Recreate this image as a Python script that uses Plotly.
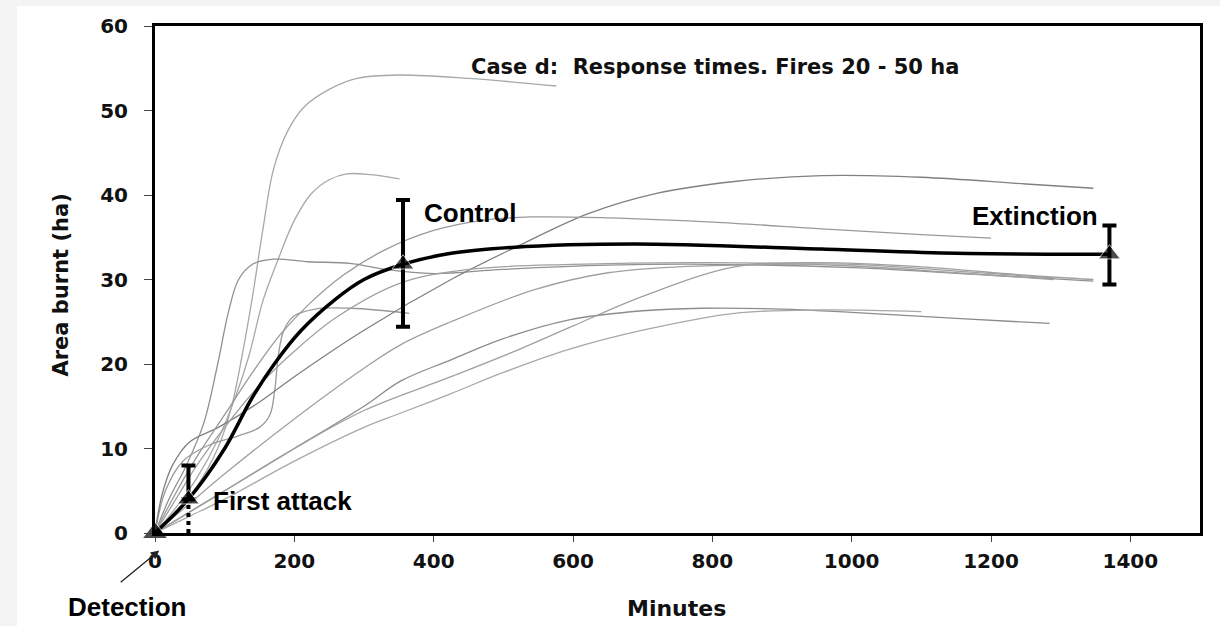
import plotly.graph_objects as go

# ---------------- data ----------------
x_ticks = [0, 200, 400, 600, 800, 1000, 1200, 1400]
y_ticks = [0, 10, 20, 30, 40, 50, 60]

# individual fires (grey curves)
fireA_x = [0, 30, 60, 90, 110, 125, 140, 155, 170, 190, 215, 250, 290, 350, 450, 576]
fireA_y = [0, 2.5, 5.5, 10, 15, 21, 28, 36, 43, 47.5, 50.5, 52.5, 53.8, 54.2, 53.8, 52.9]
fireB_x = [0, 30, 60, 90, 115, 135, 155, 175, 200, 225, 250, 275, 310, 351]
fireB_y = [0, 3, 6.5, 11, 16, 21, 27.5, 32, 37, 40.2, 41.8, 42.5, 42.4, 41.9]
fireC_x = [0, 20, 45, 70, 90, 105, 120, 140, 170, 220, 280, 330, 400, 500, 650, 800, 1000, 1200, 1347]
fireC_y = [0, 4, 8, 13, 20, 26, 30, 31.8, 32.4, 32.1, 31.9, 31.2, 30.7, 31.2, 31.7, 31.8, 31.4, 30.5, 29.8]
fireD_x = [0, 15, 40, 80, 120, 150, 165, 172, 177, 185, 200, 230, 280, 330, 365]
fireD_y = [0, 5, 8.5, 10.5, 11.5, 12.5, 14, 17, 21, 24, 25.7, 26.5, 26.6, 26.3, 26]
fireE_x = [0, 10, 25, 50, 91, 150, 200, 300, 425, 522, 622, 720, 832, 957, 1100, 1250, 1347]
fireE_y = [0, 4.5, 8, 10.8, 12.5, 15.5, 18.5, 24, 30, 34, 37.8, 40.2, 41.6, 42.3, 42.1, 41.3, 40.8]
fireF_x = [0, 25, 60, 100, 140, 180, 220, 270, 330, 400, 470, 540, 650, 800, 957, 1100, 1200]
fireF_y = [0, 4, 9, 14, 19, 23.5, 27, 30.5, 33.5, 35.8, 37, 37.4, 37.3, 36.8, 36, 35.3, 34.9]
fireG_x = [0, 50, 100, 200, 300, 353, 425, 545, 650, 750, 832, 1000, 1150, 1290]
fireG_y = [0, 3.5, 7, 13.5, 19.5, 22.3, 25, 28.8, 30.8, 31.5, 31.7, 31.8, 31, 30.2]
fireH_x = [0, 50, 100, 200, 300, 353, 425, 500, 593, 700, 784, 900, 1000, 1150, 1284]
fireH_y = [0, 2.5, 5, 10, 15, 18, 20.5, 23, 25.2, 26.3, 26.6, 26.5, 26.1, 25.4, 24.8]
fireI_x = [0, 50, 100, 200, 300, 425, 522, 600, 700, 832, 950, 1100, 1250, 1347]
fireI_y = [0, 2.5, 5, 10, 14.5, 18.5, 21.7, 24.5, 28, 31.5, 32, 31.5, 30.5, 30]
fireJ_x = [0, 50, 100, 200, 300, 353, 425, 500, 593, 700, 832, 957, 1100]
fireJ_y = [0, 2, 4, 8.5, 12.5, 14.2, 16.5, 19, 21.7, 24, 26, 26.4, 26.2]
fireK_x = [0, 30, 60, 100, 150, 200, 260, 353, 450, 600, 800, 1000, 1150, 1290]
fireK_y = [0, 4, 8, 12.5, 17.5, 21.5, 25.5, 29.6, 31.2, 31.8, 32, 31.6, 30.8, 30]

fires = [
    (fireA_x, fireA_y), (fireB_x, fireB_y), (fireC_x, fireC_y), (fireD_x, fireD_y),
    (fireE_x, fireE_y), (fireF_x, fireF_y), (fireG_x, fireG_y), (fireH_x, fireH_y),
    (fireI_x, fireI_y), (fireJ_x, fireJ_y), (fireK_x, fireK_y),
]
fire_colors = ["#a8a8a8", "#a8a8a8", "#909090", "#999999", "#808080", "#999999",
               "#a0a0a0", "#8c8c8c", "#a0a0a0", "#a8a8a8", "#a0a0a0"]

# mean curve
mean_x = [0, 48, 100, 138, 172, 210, 258, 300, 356, 425, 512, 688, 957, 1150, 1370]
mean_y = [0, 4, 10, 15.8, 20.1, 24, 27.6, 30, 31.8, 33.1, 33.8, 34.2, 33.6, 33.1, 33.0]

# milestones
stage_names = ["Detection", "First attack", "Control", "Extinction"]
stage_x = [0, 48, 356, 1370]
stage_y = [0, 4, 31.8, 33]
stage_err_plus = [0, 4, 7.6, 3.4]
stage_err_minus = [0, 0, 7.4, 3.6]

fig = go.Figure()

for (fx, fy), col in zip(fires, fire_colors):
    fig.add_trace(go.Scatter(x=fx, y=fy, mode="lines",
                             line=dict(color=col, width=1.3, shape="spline", smoothing=1.0),
                             hoverinfo="skip", showlegend=False))

fig.add_trace(go.Scatter(x=mean_x, y=mean_y, mode="lines",
                         line=dict(color="black", width=3.5, shape="spline", smoothing=0.9),
                         showlegend=False, cliponaxis=False))

# dotted lower part of the first-attack bar
fig.add_trace(go.Scatter(x=[stage_x[1], stage_x[1]], y=[0, stage_y[1]], mode="lines",
                         line=dict(color="black", width=4, dash="dot"), showlegend=False))

fig.add_trace(go.Scatter(
    x=stage_x, y=stage_y, mode="markers",
    marker=dict(symbol="triangle-up", size=[22, 19, 19, 19], color="black"),
    error_y=dict(type="data", symmetric=False, array=stage_err_plus,
                 arrayminus=stage_err_minus, color="black", thickness=4, width=7),
    cliponaxis=False, showlegend=False))

label_font = dict(family="Liberation Sans", size=26, color="black", weight="bold")
bold_font = dict(family="DejaVu Sans", color="#111", weight="bold")
annotations = [
    dict(x=stage_x[1] + 32, y=stage_y[1] - 0.2, text="First attack", xanchor="left", yanchor="middle",
         showarrow=False, font=label_font),
    dict(x=stage_x[2] + 27, y=37.9, text="Control", xanchor="left", yanchor="middle",
         showarrow=False, font=label_font),
    dict(x=stage_x[3] - 14, y=37.5, text="Extinction", xanchor="right", yanchor="middle",
         showarrow=False, font=label_font),
    dict(x=-0.0268, y=-0.146, xref="paper", yref="paper", text="Detection", xanchor="center",
         yanchor="middle", showarrow=False, font=label_font),
    dict(x=0.004, y=-0.0345, xref="paper", yref="paper", text="", showarrow=True,
         ax=-40, ay=33, arrowhead=2, arrowsize=1.3, arrowwidth=1.3, arrowcolor="#222"),
    dict(x=804, y=55.1, text="Case d:  Response times. Fires 20 - 50 ha", xanchor="center",
         yanchor="middle", showarrow=False, font=dict(size=21, **bold_font)),
    dict(x=-0.09, y=0.49, xref="paper", yref="paper", text="Area burnt (ha)", textangle=-90,
         xanchor="center", yanchor="middle",
         showarrow=False, font=dict(size=21, **bold_font)),
    dict(x=0.4995, y=-0.148, xref="paper", yref="paper", text="Minutes",
         xanchor="center", yanchor="middle",
         showarrow=False, font=dict(size=22, **bold_font)),
]

tick_font = dict(size=20, **bold_font)
fig.update_layout(
    width=1220, height=626,
    margin=dict(l=155, r=20, t=26, b=93),
    paper_bgcolor="#f4f4f4", plot_bgcolor="white",
    annotations=annotations,
    shapes=[dict(type="rect", xref="paper", yref="paper", x0=-0.132, x1=1.05, y0=-0.2, y1=1.0394,
                 fillcolor="white", line=dict(width=0), layer="below")],
    xaxis=dict(range=[0, 1500], tickvals=x_ticks, ticktext=[str(v) for v in x_ticks],
               showgrid=False, zeroline=False, showline=True, linecolor="black", linewidth=2.5,
               mirror=True, ticks="outside", ticklen=6, tickwidth=1, tickcolor="#444",
               tickfont=tick_font, ticklabelstandoff=2),
    yaxis=dict(range=[0, 60], tickvals=y_ticks, ticktext=[str(v) for v in y_ticks],
               showgrid=False, zeroline=False, showline=True, linecolor="black", linewidth=3,
               mirror=True, ticks="outside", ticklen=8, tickwidth=1, tickcolor="#444",
               tickfont=tick_font, ticklabelstandoff=12),
)

fig.write_html("out.html", config={"displayModeBar": False},
               post_script="document.body.style.margin='0';document.body.style.background='#f4f4f4';"
                           "document.body.style.overflow='hidden';")
